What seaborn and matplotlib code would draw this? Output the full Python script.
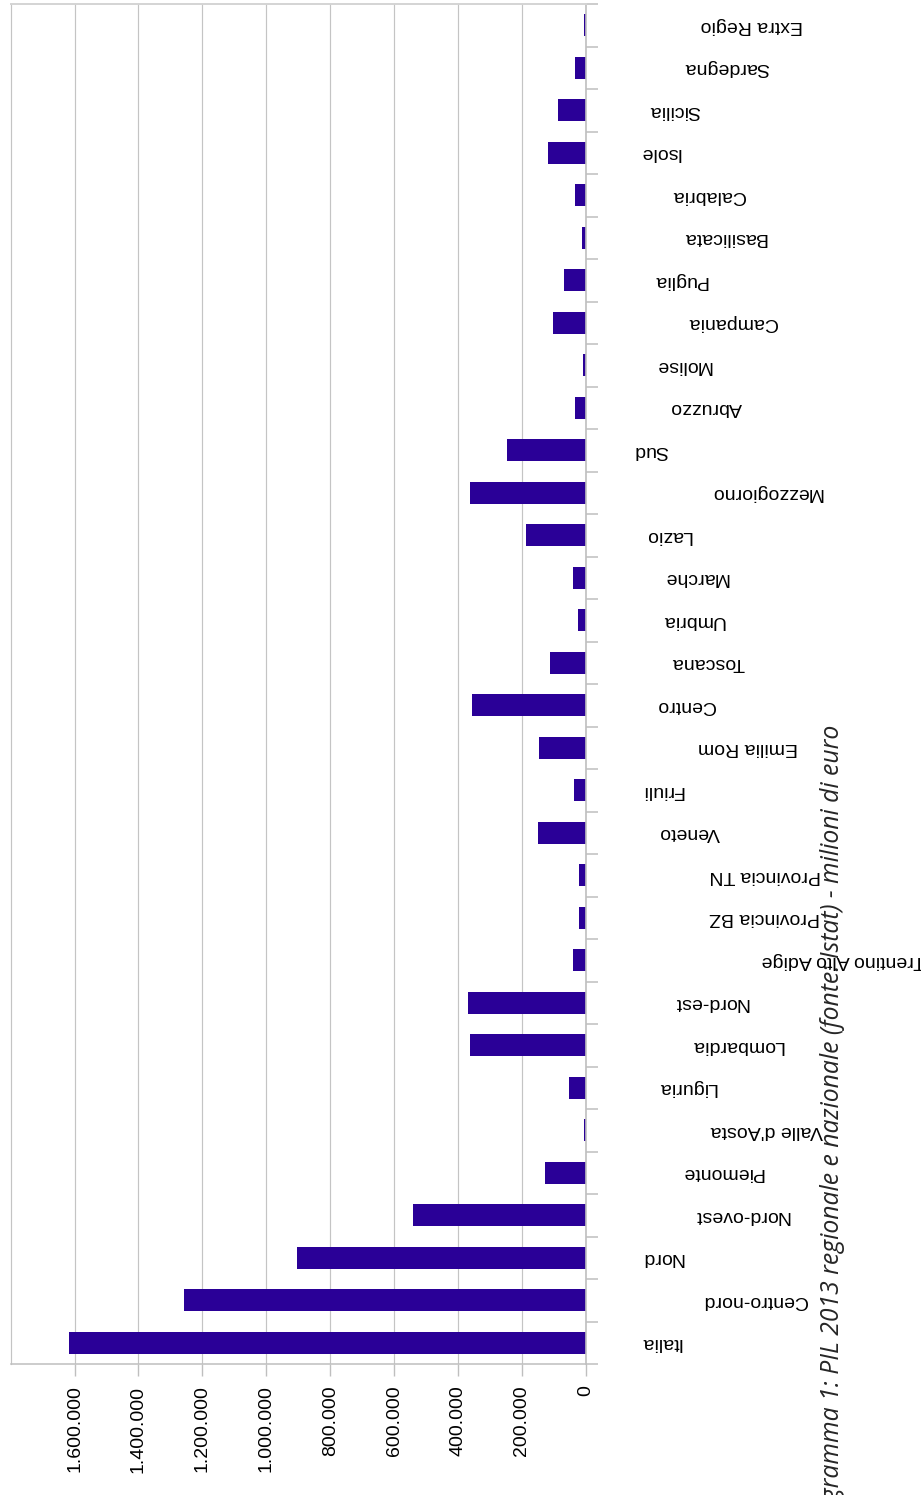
import matplotlib
matplotlib.use("Agg")
import matplotlib.pyplot as plt
import matplotlib.transforms as mtransforms
import numpy as np
import pandas as pd
import seaborn as sns

# PIL 2013 per area (milioni di euro), dal totale nazionale alle singole regioni
aree = [
    "Italia", "Centro-nord", "Nord", "Nord-ovest", "Piemonte", "Valle d'Aosta",
    "Liguria", "Lombardia", "Nord-est", "Trentino Alto Adige", "Provincia BZ",
    "Provincia TN", "Veneto", "Friuli", "Emilia Rom", "Centro", "Toscana",
    "Umbria", "Marche", "Lazio", "Mezzogiorno", "Sud", "Abruzzo", "Molise",
    "Campania", "Puglia", "Basilicata", "Calabria", "Isole", "Sicilia",
    "Sardegna", "Extra Regio",
]
pil = [
    1618900, 1258000, 905000, 540000, 127500, 6000,
    52000, 362000, 368000, 40000, 22000,
    20000, 148500, 36000, 146000, 356000, 111000,
    23000, 39600, 186500, 363000, 246000, 33000, 9000,
    102000, 68000, 11000, 33000, 118000, 86000,
    33000, 6000,
]
tick_valori = [0, 200000, 400000, 600000, 800000, 1000000, 1200000, 1400000, 1600000]
titolo = "Diagramma 1: PIL 2013 regionale e nazionale (fonte: Istat) - milioni di euro"

df = pd.DataFrame({"area": aree, "pil": pil})

sns.set_style("white")
plt.rcParams["font.family"] = ["Liberation Sans", "DejaVu Sans"]

W, H, DPI = 921, 1495, 100
fig = plt.figure(figsize=(W / DPI, H / DPI), dpi=DPI)
ax = fig.add_axes([10.7 / W, 131 / H, 575 / W, 1360 / H])

ordine = aree[::-1]  # Extra Regio in alto, Italia in basso
sns.barplot(data=df, x="pil", y="area", order=ordine, orient="h",
            color="#2a0097", saturation=1, width=0.52, linewidth=0, ax=ax)

ax.set_xlim(1800000, 0)
ax.set_ylim(len(aree) - 0.5, -0.5)
ax.set_xlabel("")
ax.set_ylabel("")

# asse dei valori
ax.set_xticks(tick_valori)
ax.set_xticklabels([f"{v:,}".replace(",", ".") for v in tick_valori],
                   rotation=90, fontsize=14, color="black")
ax.tick_params(axis="x", which="major", bottom=True, direction="out",
               length=8.5, width=1.0, color="#bfbfbf", pad=7)
ax.grid(axis="x", color="#c4c4c4", linewidth=0.85)
ax.grid(axis="y", visible=False)
ax.set_axisbelow(True)

# asse delle categorie a destra con tacche tra le barre
ax.yaxis.tick_right()
ax.set_yticks(np.arange(len(aree)))
ax.set_yticklabels([])
ax.tick_params(axis="y", which="major", length=0, right=False, left=False)
ax.set_yticks(np.arange(-0.5, len(aree), 1.0), minor=True)
ax.tick_params(axis="y", which="minor", right=True, left=False, direction="out",
               length=8.5, width=1.1, color="#bfbfbf")

for lato in ["top", "bottom", "left", "right"]:
    ax.spines[lato].set_visible(True)
ax.spines["right"].set_color("#bfbfbf")
ax.spines["right"].set_linewidth(1.2)
ax.spines["bottom"].set_color("#bfbfbf")
ax.spines["bottom"].set_linewidth(1.1)
ax.spines["top"].set_color("#d4d4d4")
ax.spines["top"].set_linewidth(1.4)
ax.spines["left"].set_color("#c4c4c4")
ax.spines["left"].set_linewidth(0.85)

# titolo verticale
fig.text(832 / W, 1 - 725 / H, titolo, rotation=90, ha="center", va="top",
         fontsize=17.8, style="italic", family=["Open Sans", "DejaVu Sans"])

# etichette delle aree, capovolte, a destra dell'asse
fig.canvas.draw()
renderer = fig.canvas.get_renderer()
ident = mtransforms.IdentityTransform()
for i, nome in enumerate(ordine):
    t = fig.text(0, 0, nome, rotation=180, fontsize=14, ha="left", va="center",
                 transform=ident, color="black")
    w = t.get_window_extent(renderer).width
    y_disp = ax.transData.transform((0, i))[1]
    t.set_position((598 + w, y_disp))

fig.savefig("out.png", dpi=DPI)
